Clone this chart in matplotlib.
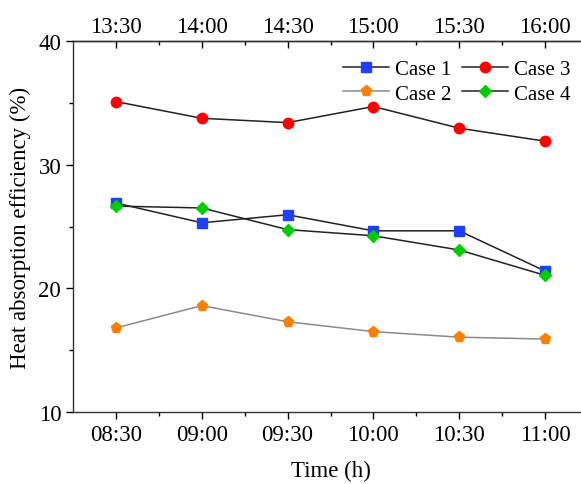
import matplotlib.pyplot as plt

# ---------- DATA ----------
times_bottom = ["08:30", "09:00", "09:30", "10:00", "10:30", "11:00"]
times_top = ["13:30", "14:00", "14:30", "15:00", "15:30", "16:00"]

case1 = [26.9, 25.3, 25.95, 24.65, 24.65, 21.4]
case2 = [16.8, 18.6, 17.3, 16.5, 16.05, 15.9]
case3 = [35.1, 33.75, 33.4, 34.7, 32.95, 31.9]
case4 = [26.65, 26.5, 24.75, 24.25, 23.1, 21.05]

# ---------- STYLE ----------
plt.rcParams.update({
    "font.family": ["Liberation Serif", "DejaVu Serif"],
    "font.size": 16.5,
    "axes.linewidth": 1.0,
    "axes.edgecolor": "#333333",
})

fig = plt.figure(figsize=(5.81, 4.85), dpi=100)
ax = fig.add_axes([73 / 581, 1 - 413 / 485, 515 / 581, 371 / 485])

x = list(range(len(times_bottom)))

ax.plot(x, case1, color="#222222", lw=1.1, marker="s", ms=6.5,
        mfc="#1f3fff", mec="#1f3fff", label="Case 1")
ax.plot(x, case2, color="#8a8a8a", lw=1.1, marker="p", ms=8,
        mfc="#ff8000", mec="#ff8000", label="Case 2")
ax.plot(x, case3, color="#222222", lw=1.1, marker="o", ms=7.5,
        mfc="#ff0000", mec="#ff0000", label="Case 3")
ax.plot(x, case4, color="#222222", lw=1.1, marker="D", ms=6.5,
        mfc="#00cc00", mec="#00cc00", label="Case 4")

ax.set_xlim(-0.5, 5.5)
ax.set_ylim(10, 40)
ax.set_xticks(x)
ax.set_xticklabels(times_bottom)
ax.set_xticks([i + 0.5 for i in x], minor=True)
ax.set_yticks([10, 20, 30, 40])
ax.set_yticks([15, 25, 35], minor=True)

ax.tick_params(axis="both", which="major", direction="out", length=5, width=1,
               labelsize=16.5)
ax.tick_params(axis="both", which="minor", direction="out", length=3, width=1)
ax.tick_params(axis="x", which="major", pad=4)
ax.spines["right"].set_visible(False)

ax.set_xlabel("Time (h)", fontsize=16.5, labelpad=10)
ax.set_ylabel("Heat absorption efficiency (%)", fontsize=16.5, labelpad=5)

# top axis with afternoon times
ax_top = ax.secondary_xaxis("top")
ax_top.set_xticks(x)
ax_top.set_xticklabels(times_top)
ax_top.set_xticks([i + 0.5 for i in x], minor=True)
ax_top.tick_params(which="major", direction="in", length=5, width=1, pad=3,
                   labelsize=16.5)
ax_top.tick_params(which="minor", direction="in", length=3, width=1)

ax.legend(ncol=2, loc="upper right", bbox_to_anchor=(0.994, 0.99), frameon=False,
          fontsize=15, handlelength=2.2, columnspacing=0.5, handletextpad=0.3,
          labelspacing=0.25, borderaxespad=0.3)

fig.savefig("out.png", dpi=100)
